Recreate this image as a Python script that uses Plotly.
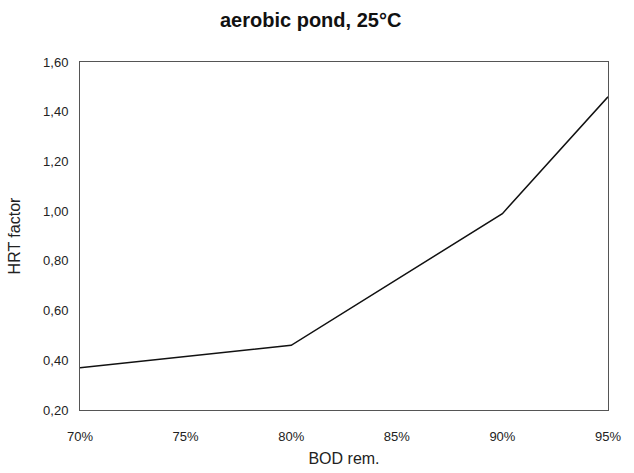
import plotly.graph_objects as go

bod_removal = [70, 80, 90, 95]
hrt_factor = [0.37, 0.46, 0.99, 1.46]
x_ticks = [70, 75, 80, 85, 90, 95]
y_ticks = [0.2, 0.4, 0.6, 0.8, 1.0, 1.2, 1.4, 1.6]

fig = go.Figure()
fig.add_trace(go.Scatter(x=bod_removal, y=hrt_factor, mode="lines",
                         line=dict(color="#111111", width=1.5), showlegend=False))

fig.update_layout(
    width=634, height=473,
    margin=dict(l=80, r=26, t=62, b=63),
    paper_bgcolor="white", plot_bgcolor="white",
    separators=",.",
    font=dict(family="Liberation Sans, Arial, sans-serif", size=13, color="#222222"),
    title=dict(text="<b>aerobic pond, 25°C</b>", x=0.49, xanchor="center", y=0.958, yanchor="middle",
               font=dict(size=20, color="#111111")),
    xaxis=dict(range=[70, 95], tickvals=x_ticks, ticktext=[f"{v}%" for v in x_ticks],
               showgrid=False, zeroline=False, showline=True, mirror=True, automargin=False,
               linecolor="#555555", linewidth=1, ticks="outside", ticklen=14, tickcolor="white",
               title=dict(text="BOD rem.", standoff=10)),
    yaxis=dict(range=[0.2, 1.6], tickvals=y_ticks, tickformat=".2f",
               showgrid=False, zeroline=False, showline=True, mirror=True, automargin=False,
               linecolor="#555555", linewidth=1, ticks="outside", ticklen=8, tickcolor="white",
               title=dict(text="HRT factor", standoff=18)),
)

fig.write_html("out.html", config={"displayModeBar": False},
               post_script="document.body.style.margin='0';")
